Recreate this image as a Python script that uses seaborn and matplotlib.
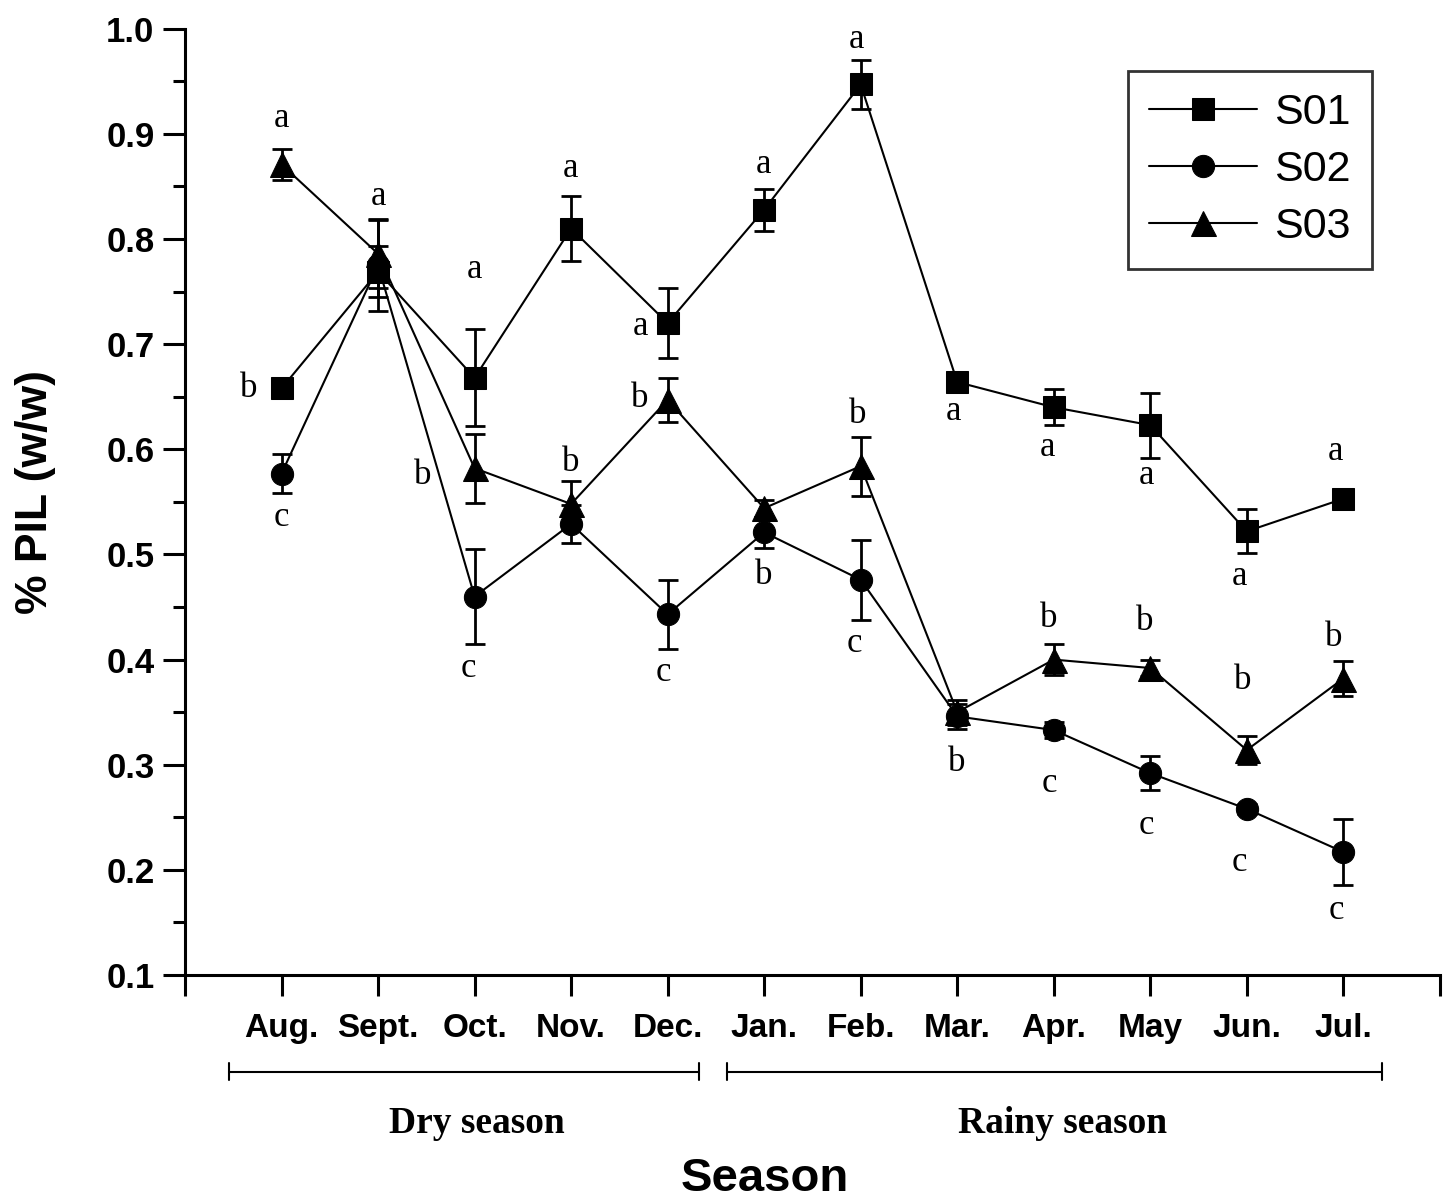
import numpy as np
import pandas as pd
import seaborn as sns
import matplotlib.pyplot as plt
from matplotlib.ticker import MultipleLocator

# data
months = ['Aug.', 'Sept.', 'Oct.', 'Nov.', 'Dec.', 'Jan.', 'Feb.', 'Mar.', 'Apr.', 'May', 'Jun.', 'Jul.']
x_pos = list(range(1, 13))

s01 = [0.658, 0.769, 0.668, 0.810, 0.720, 0.828, 0.947, 0.664, 0.640, 0.623, 0.522, 0.553]
s01_err = [0.0, 0.024, 0.046, 0.031, 0.033, 0.020, 0.023, 0.0, 0.017, 0.031, 0.021, 0.0]
s02 = [0.577, 0.775, 0.460, 0.529, 0.443, 0.521, 0.476, 0.346, 0.333, 0.292, 0.258, 0.217]
s02_err = [0.019, 0.043, 0.045, 0.018, 0.033, 0.015, 0.038, 0.012, 0.008, 0.016, 0.005, 0.031]
s03 = [0.871, 0.786, 0.582, 0.548, 0.647, 0.544, 0.584, 0.350, 0.400, 0.392, 0.314, 0.382]
s03_err = [0.015, 0.033, 0.033, 0.022, 0.021, 0.008, 0.028, 0.012, 0.015, 0.008, 0.013, 0.017]

# significance letters and where they sit (x in month index, y in % PIL)
sig_letters = ['a', 'b', 'c', 'a', 'a', 'b', 'c', 'a', 'b', 'a', 'b', 'c',
               'a', 'b', 'a', 'b', 'c', 'a', 'b', 'a', 'b', 'c',
               'a', 'b', 'c', 'a', 'b', 'c', 'a', 'b', 'c']
sig_x = [1.0, 0.66, 1.0, 2.0, 3.0, 2.46, 2.94, 3.99, 4.0, 4.72, 4.71, 4.96,
         5.99, 5.99, 6.96, 6.97, 6.93, 7.96, 7.99, 8.94, 8.95, 8.95,
         9.96, 9.94, 9.96, 10.92, 10.96, 10.92, 11.92, 11.9, 11.93]
sig_y = [0.915, 0.658, 0.535, 0.840, 0.771, 0.575, 0.392, 0.867, 0.587, 0.717, 0.648, 0.388,
         0.871, 0.480, 0.990, 0.633, 0.415, 0.636, 0.302, 0.602, 0.439, 0.282,
         0.575, 0.436, 0.242, 0.479, 0.380, 0.207, 0.598, 0.421, 0.161]

season_names = ['Dry season', 'Rainy season']
season_start = [0.46, 5.62]
season_end = [5.32, 12.40]
season_label_x = [3.02, 9.09]

df = pd.DataFrame({
    'x': x_pos * 3,
    'pil': s01 + s02 + s03,
    'err': s01_err + s02_err + s03_err,
    'series': ['S01'] * 12 + ['S02'] * 12 + ['S03'] * 12,
})

sns.set_style('ticks')
plt.rcParams['font.family'] = ['Liberation Sans', 'DejaVu Sans']
plt.rcParams['text.color'] = 'black'
plt.rcParams['axes.labelcolor'] = 'black'

fig, ax = plt.subplots(figsize=(14.5, 11.99), dpi=100)
fig.subplots_adjust(left=0.1276, right=0.993, bottom=0.1868, top=0.976)

marker_map = {'S01': 's', 'S02': 'o', 'S03': '^'}
size_map = {'S01': 16, 'S02': 16, 'S03': 18}
for name in ['S01', 'S02', 'S03']:
    sub = df[df['series'] == name]
    ax.errorbar(sub['x'], sub['pil'], yerr=sub['err'], fmt='none', ecolor='black',
                elinewidth=2, capsize=7, capthick=2, zorder=2)
    sns.lineplot(data=sub, x='x', y='pil', ax=ax, color='black', lw=1.5,
                 marker=marker_map[name], markersize=size_map[name],
                 markeredgecolor='black', label=name, zorder=3)

for lt, lx, ly in zip(sig_letters, sig_x, sig_y):
    ax.text(lx, ly, lt, ha='center', va='center', fontsize=25, family='Liberation Serif')

ax.set_xlim(0, 13)
ax.set_ylim(0.1, 1.0)
ax.set_xticks(range(0, 14))
ax.set_xticklabels([''] + months + [''], fontsize=24, fontweight='bold')
ax.yaxis.set_major_locator(MultipleLocator(0.1))
ax.yaxis.set_minor_locator(MultipleLocator(0.05))
ax.set_yticks(np.round(np.arange(0.1, 1.01, 0.1), 1))
ax.set_yticklabels([f'{v:.1f}' for v in np.arange(0.1, 1.01, 0.1)], fontsize=25, fontweight='bold')
ax.tick_params(axis='x', direction='out', length=15, width=2.2, pad=12, colors='black')
ax.tick_params(axis='y', which='major', direction='out', length=16, width=2.2, pad=6, colors='black')
ax.tick_params(axis='y', which='minor', direction='out', length=9, width=2.2, colors='black')

sns.despine(ax=ax)
for sp in ['left', 'bottom']:
    ax.spines[sp].set_linewidth(2.2)
    ax.spines[sp].set_color('black')

ax.set_ylabel('% PIL (w/w)', fontsize=32, fontweight='bold')
ax.yaxis.set_label_coords(-0.103, 0.51)
ax.set_xlabel('Season', fontsize=34, fontweight='bold')
ax.xaxis.set_label_coords(0.462, -0.192)

# season brackets under the month labels
tr = ax.get_xaxis_transform()
for name, x0, x1, xt in zip(season_names, season_start, season_end, season_label_x):
    ax.plot([x0, x1], [-0.102, -0.102], color='black', lw=1.5, transform=tr, clip_on=False)
    for xe in (x0, x1):
        ax.plot([xe, xe], [-0.093, -0.111], color='black', lw=1.5, transform=tr, clip_on=False)
    ax.text(xt, -0.157, name, transform=tr, ha='center', va='center',
            fontsize=27, fontweight='bold', family='Liberation Serif')

leg = ax.legend(loc='upper right', bbox_to_anchor=(0.946, 0.955), fontsize=31,
                frameon=True, fancybox=False, edgecolor='black', handlelength=2.5,
                handletextpad=0.4, labelspacing=0.4, borderpad=0.5, borderaxespad=0)
leg.get_frame().set_linewidth(2)

fig.savefig('out.png', dpi=100)
